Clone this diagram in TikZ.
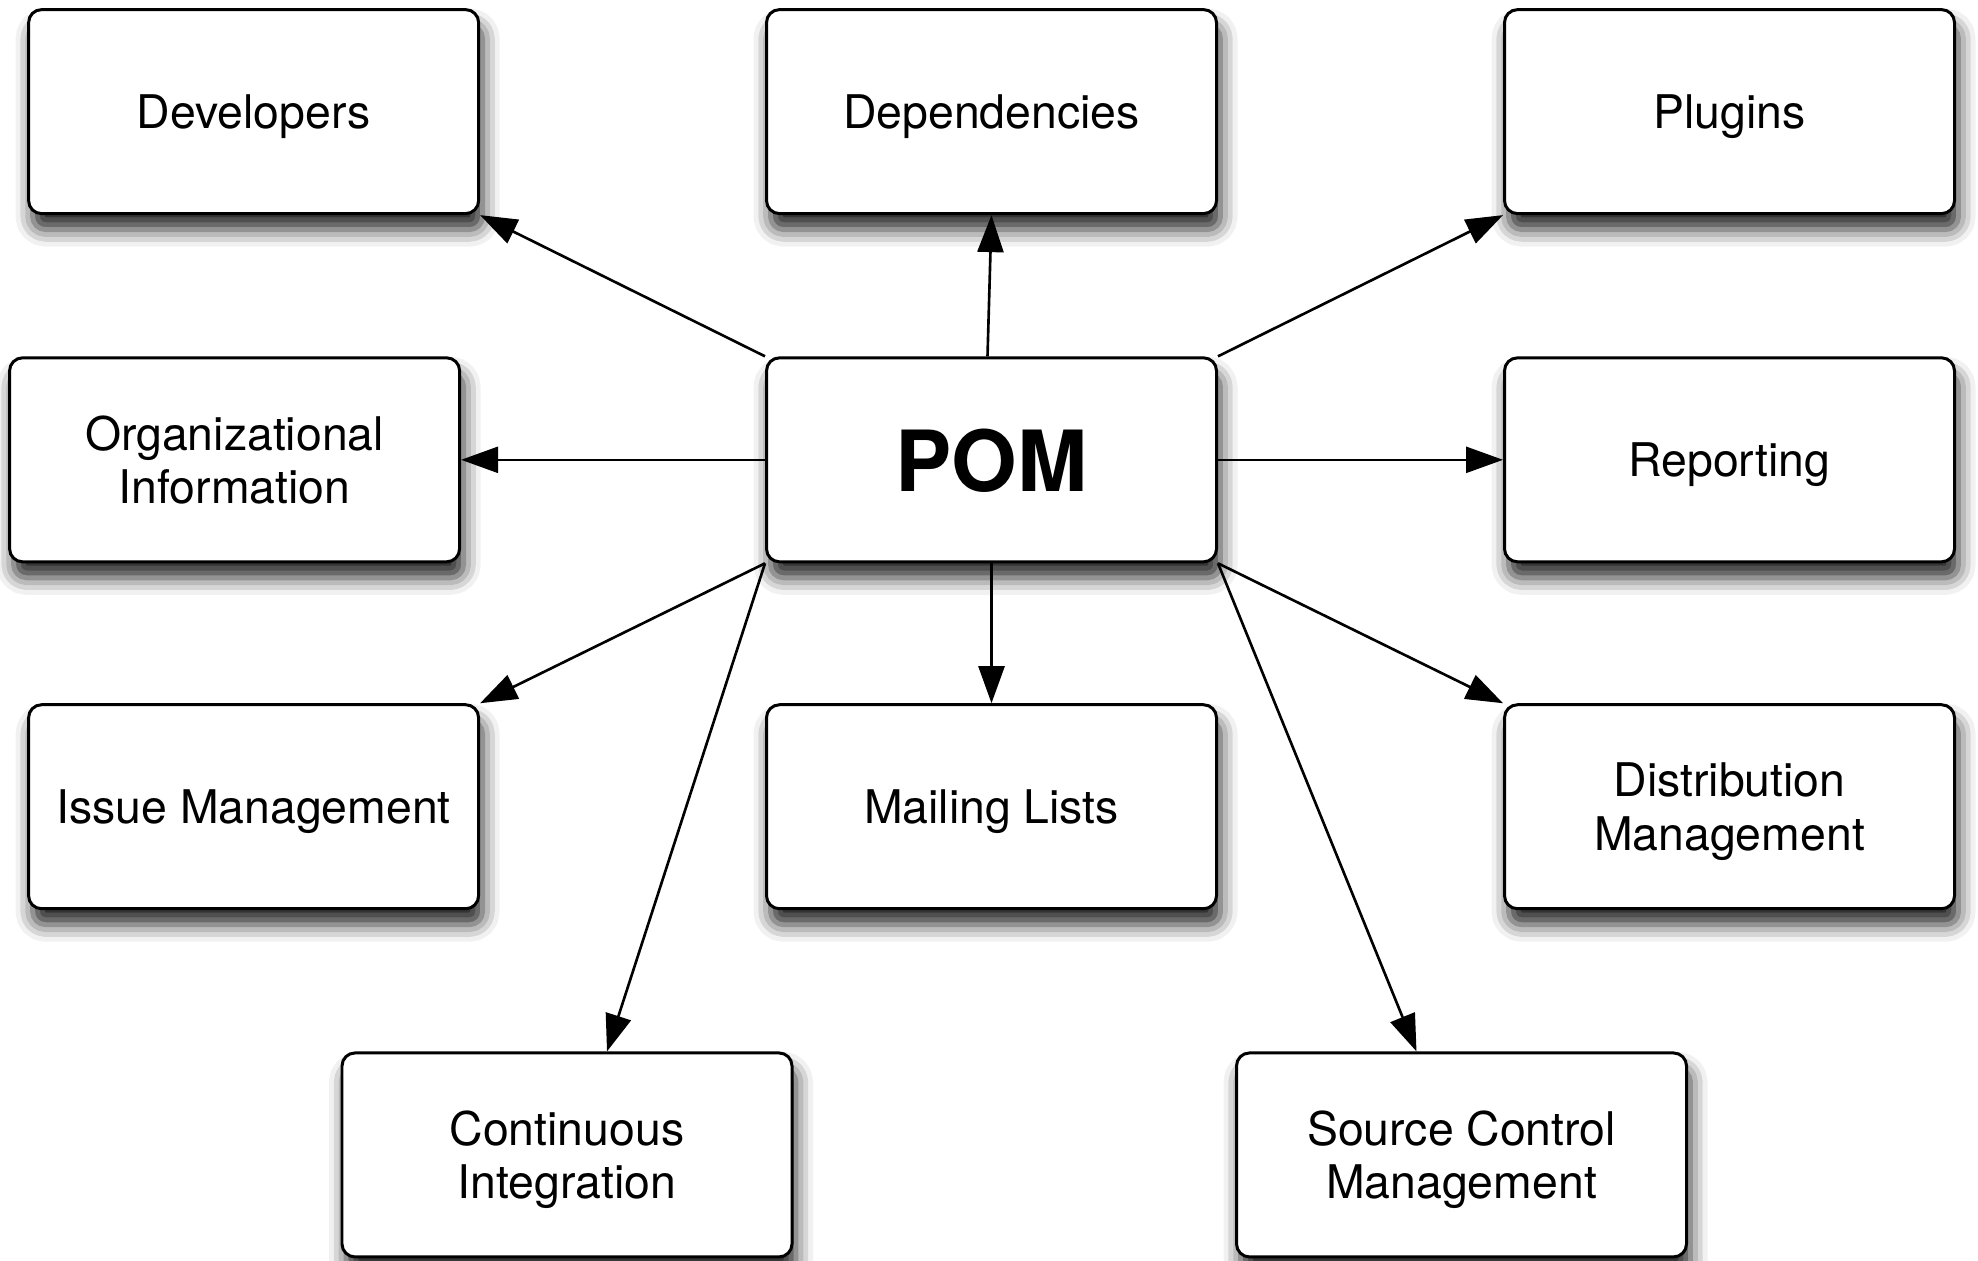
\documentclass[tikz,border=0pt]{standalone}
\usepackage{fontspec}
\setmainfont{TeX Gyre Heros}
\usetikzlibrary{arrows.meta,shadows.blur}

\begin{document}
\begin{tikzpicture}[
  box/.style = {draw, line width = 0.85pt, rounded corners = 1.3mm, fill = white,
    minimum width = 4.5cm, minimum height = 2.04cm, align = center, text depth = 0pt,
    font = \fontsize{13.2}{15.2}\selectfont,
    blur shadow = {shadow xshift = 0.4mm, shadow yshift = -1.6mm,
      shadow blur radius = 1.7mm, shadow opacity = 85}},
  link/.style = {-{Triangle[length = 3.7mm, width = 2.6mm]}, line width = 0.75pt}]
\useasboundingbox (0,0) rectangle (19.78,-12.60);
% the model in the middle
\node [box, font = \fontsize{24}{26}\selectfont\bfseries] (pom) at (9.915,-4.598) {POM};
% what it describes
\node [box] (dev) at (2.536,-1.116) {Developers};
\node [box] (dep) at (9.915,-1.116) {Dependencies};
\node [box] (plug) at (17.295,-1.116) {Plugins};
\node [box] (org) at (2.346,-4.598) {Organizational\\Information};
\node [box] (rep) at (17.295,-4.598) {Reporting};
\node [box] (issue) at (2.536,-8.067) {Issue Management};
\node [box] (mail) at (9.915,-8.067) {Mailing Lists};
\node [box] (dist) at (17.295,-8.067) {Distribution\\Management};
\node [box] (ci) at (5.670,-11.549) {Continuous\\Integration};
\node [box] (scm) at (14.615,-11.549) {Source Control\\Management};
% arrows out of the POM
\draw [link] (pom.north west) -- (dev.south east);
\draw [link] ([xshift = -0.4mm]pom.north) -- (dep.south);
\draw [link] (pom.north east) -- (plug.south west);
\draw [link] (pom.west) -- (org.east);
\draw [link] (pom.east) -- (rep.west);
\draw [link] (pom.south west) -- (issue.north east);
\draw [link] (pom.south) -- (mail.north);
\draw [link] (pom.south east) -- (dist.north west);
\draw [link] (pom.south west) -- ([xshift = 4mm]ci.north);
\draw [link] (pom.south east) -- ([xshift = -4.5mm]scm.north);
\end{tikzpicture}
\end{document}
